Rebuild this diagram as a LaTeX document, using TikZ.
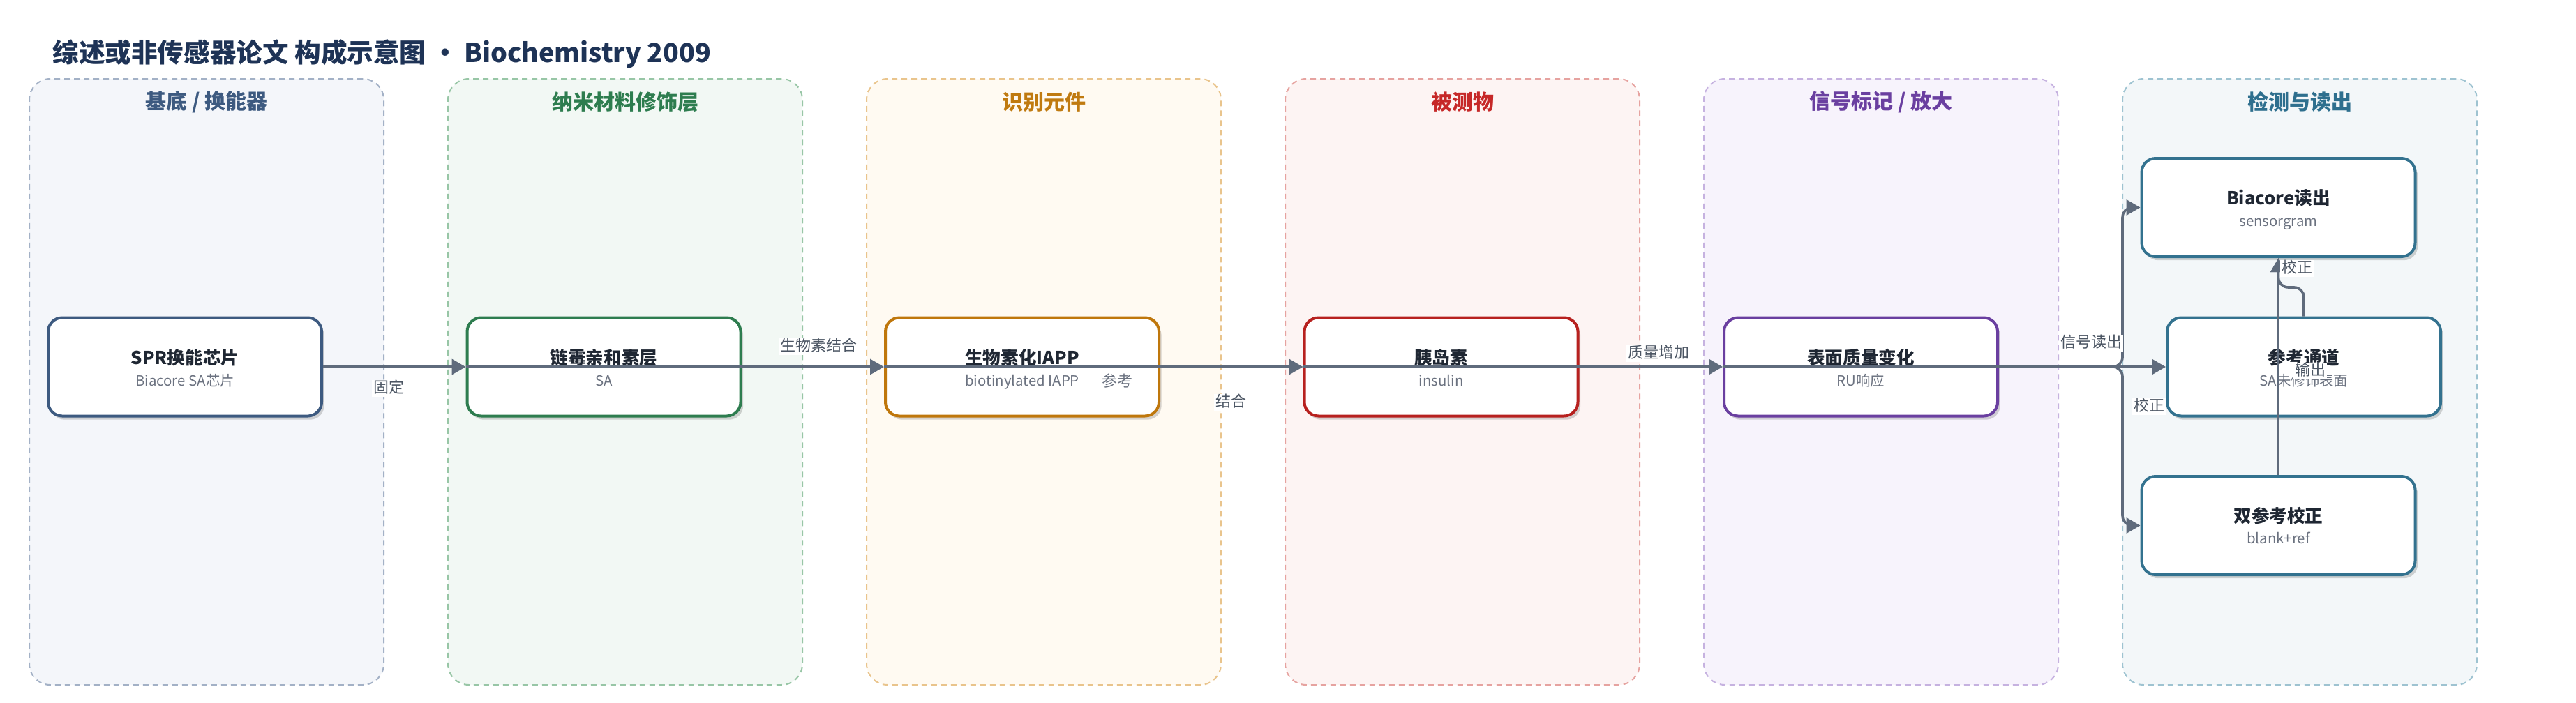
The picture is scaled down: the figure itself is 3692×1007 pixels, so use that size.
\documentclass[tikz,border=0pt]{standalone}
\usepackage{fontspec}
\setmainfont{Noto Sans CJK SC}
\usetikzlibrary{arrows.meta,shadows}
\definecolor{titleink}{HTML}{1E3356}
\definecolor{ink}{HTML}{1F2733}
\definecolor{subgray}{HTML}{6B7280}
\definecolor{lblgray}{HTML}{4B5563}
\definecolor{edgecol}{HTML}{5F6B7C}
\definecolor{pAfill}{HTML}{F4F6FA}\definecolor{pAline}{HTML}{A3B1C6}\definecolor{pAtxt}{HTML}{3D5A80}
\definecolor{pBfill}{HTML}{F2F8F4}\definecolor{pBline}{HTML}{98C6A6}\definecolor{pBtxt}{HTML}{2E7D4F}
\definecolor{pCfill}{HTML}{FFFAF2}\definecolor{pCline}{HTML}{E9C48C}\definecolor{pCtxt}{HTML}{C07A10}
\definecolor{pDfill}{HTML}{FDF4F3}\definecolor{pDline}{HTML}{E6A3A0}\definecolor{pDtxt}{HTML}{C62828}
\definecolor{pEfill}{HTML}{F7F3FC}\definecolor{pEline}{HTML}{C6B2E0}\definecolor{pEtxt}{HTML}{6A3FA0}
\definecolor{pFfill}{HTML}{F3F7F9}\definecolor{pFline}{HTML}{9EC3D1}\definecolor{pFtxt}{HTML}{2E6F8E}
\definecolor{bA}{HTML}{3D5A80}\definecolor{bB}{HTML}{2E7D4F}\definecolor{bC}{HTML}{BF770C}
\definecolor{bD}{HTML}{B7211F}\definecolor{bE}{HTML}{6A3FA0}\definecolor{bF}{HTML}{33728F}
\begin{document}
\begin{tikzpicture}[x=0.5pt,y=-0.5pt,
  panelbox/.style={rectangle, rounded corners=15pt, dash pattern=on 4pt off 3pt, line width=1pt,
    minimum width=254pt, minimum height=434.5pt},
  ptitle/.style={font=\bfseries\fontsize{15}{18}\selectfont},
  box/.style={rectangle, rounded corners=10pt, fill=white, line width=2pt,
    minimum width=196pt, minimum height=70.5pt,
    drop shadow={shadow xshift=1.8pt, shadow yshift=-2.6pt, opacity=0.16, fill=black}},
  ttl/.style={font=\bfseries\fontsize{12.8}{15}\selectfont, text=ink, text height=9.7pt, text depth=2pt, inner sep=0pt},
  sub/.style={font=\fontsize{10.2}{12}\selectfont, text=subgray, text height=7.6pt, text depth=1.8pt, inner sep=0pt},
  lbl/.style={font=\fontsize{11}{13}\selectfont, text=lblgray, fill=white, inner sep=1pt, text height=8.2pt, text depth=2pt},
  edge/.style={draw=edgecol, line width=1.8pt, -{Triangle[length=10pt,width=11pt]}}
]
\useasboundingbox (0,0) rectangle (3692,1007);
% title
\node[anchor=west, inner sep=0pt, text=titleink, font=\bfseries\fontsize{18.8}{22}\selectfont] (title) at (75,77)
  {综述或非传感器论文 构成示意图 • Biochemistry 2009};
% panels
\node[panelbox, fill=pAfill, draw=pAline] (gA) at (296,547.5) {};
\node[panelbox, fill=pBfill, draw=pBline] (gB) at (896,547.5) {};
\node[panelbox, fill=pCfill, draw=pCline] (gC) at (1496,547.5) {};
\node[panelbox, fill=pDfill, draw=pDline] (gD) at (2096,547.5) {};
\node[panelbox, fill=pEfill, draw=pEline] (gE) at (2696,547.5) {};
\node[panelbox, fill=pFfill, draw=pFline] (gF) at (3296,547.5) {};
\node[ptitle, text=pAtxt] (tA) at (296,146) {基底 / 换能器};
\node[ptitle, text=pBtxt] (tB) at (896,146) {纳米材料修饰层};
\node[ptitle, text=pCtxt] (tC) at (1496,146) {识别元件};
\node[ptitle, text=pDtxt] (tD) at (2096,146) {被测物};
\node[ptitle, text=pEtxt] (tE) at (2696,146) {信号标记 / 放大};
\node[ptitle, text=pFtxt] (tF) at (3296,146) {检测与读出};
% nodes
\node[box, draw=bA] (n1) at (265,526) {};
\node[box, draw=bB] (n2) at (865.5,526) {};
\node[box, draw=bC] (n3) at (1465,526) {};
\node[box, draw=bD] (n4) at (2065.5,526) {};
\node[box, draw=bE] (n5) at (2667,526) {};
\node[box, draw=bF] (n6) at (3265.5,297.5) {};
\node[box, draw=bF] (n7) at (3302,526) {};
\node[box, draw=bF] (n8) at (3265.5,753.5) {};
% node texts
\node[ttl] (n1t) at (265,515) {SPR换能芯片};
\node[sub] (n1s) at (265,548) {Biacore SA芯片};
\node[ttl] (n2t) at (865.5,515) {链霉亲和素层};
\node[sub] (n2s) at (865.5,548) {SA};
\node[ttl] (n3t) at (1465,515) {生物素化IAPP};
\node[sub] (n3s) at (1465,548) {biotinylated IAPP};
\node[ttl] (n4t) at (2065.5,515) {胰岛素};
\node[sub] (n4s) at (2065.5,548) {insulin};
\node[ttl] (n5t) at (2667,515) {表面质量变化};
\node[sub] (n5s) at (2667,548) {RU响应};
\node[ttl] (n6t) at (3265.5,286) {Biacore读出};
\node[sub] (n6s) at (3265.5,319) {sensorgram};
\node[ttl] (n7t) at (3302,515) {参考通道};
\node[sub] (n7s) at (3302,548) {SA未修饰表面};
\node[ttl] (n8t) at (3265.5,742) {双参考校正};
\node[sub] (n8s) at (3265.5,774) {blank+ref};
% connectors
\coordinate (split) at (3042,526);
\draw[edge] (n1.east) -- (n2.west);
\draw[edge] (n2.west) -- (n3.west);
\draw[edge] (n3.west) -- (n4.west);
\draw[edge] (n4.west) -- (n5.west);
\draw[edge] (n5.west) -- (n7.west);
\draw[edge, rounded corners=7pt] (n5.east) -- (split) |- (n6.west);
\draw[edge, rounded corners=7pt] (n5.east) -- (split) |- (n8.west);
\draw[edge, rounded corners=7pt] (n7.north) -- (3302,412) -- (3265.5,412) -- (n6.south);
\draw[edge] (n8.north) -- (n6.south);
% edge labels
\node[lbl] (l1) at (557,557) {固定};
\node[lbl] (l2) at (1173,497) {生物素结合};
\node[lbl, text=subgray] (l3) at (1601,548) {参考};
\node[lbl] (l4) at (1764,577) {结合};
\node[lbl] (l5) at (2377,507) {质量增加};
\node[lbl] (l6) at (2997,492) {信号读出};
\node[lbl] (l7) at (3080,583) {校正};
\node[lbl] (l8) at (3292,385) {校正};
\node[lbl] (l9) at (3311,532) {输出};
\end{tikzpicture}
\end{document}
